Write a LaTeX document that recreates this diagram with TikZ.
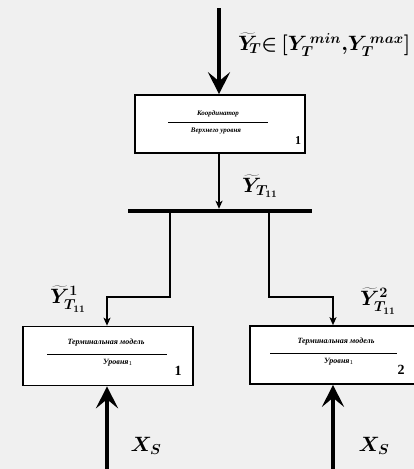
\documentclass[tikz,border=0pt]{standalone}
\usepackage{fontspec}
\setmainfont{Liberation Serif}
\usetikzlibrary{arrows.meta}
\begin{document}
\begin{tikzpicture}[x=1pt,y=-1pt,
  block/.style={draw, line width=1.6pt, fill=white, inner sep=0pt},
  tiny/.style={font=\fontsize{7}{8}\selectfont\itshape\bfseries, inner sep=0pt},
  small/.style={font=\fontsize{8}{9}\selectfont\itshape\bfseries, inner sep=0pt},
  num/.style={font=\fontsize{14}{15}\selectfont\bfseries, inner sep=0pt},
  lbl/.style={font=\fontsize{20}{22}\selectfont\boldmath, inner sep=0pt},
  bigarrow/.style={line width=3.2pt, -{Stealth[length=22pt,width=22pt,inset=9pt]}},
  thinarrow/.style={line width=1.5pt, -{Stealth[length=8pt,width=7pt,inset=2pt]}},
  rulel/.style={line width=0.9pt}]
\fill[gray!12] (0,0) rectangle (414,469);
\useasboundingbox (0,0) rectangle (414,469);

% upper coordinator
\node[block, minimum width=170pt, minimum height=58pt] (coord) at (220,124) {};
\node[tiny] (ct) at (218,114) {Координатор};
\node[tiny] (cb) at (216,131) {Верхнего уровня};
\draw[rulel] (168,122) -- (268,122);
\node[num, font=\fontsize{12}{13}\selectfont\bfseries] (c1) at (298,141) {1};

% distribution bar
\node[fill=black, minimum width=184pt, minimum height=4pt, inner sep=0pt] (bar) at (220,211) {};

% terminal models
\node[block, minimum width=170pt, minimum height=59pt] (lbox) at (108,356) {};
\node[small] (lt) at (106,343) {Терминальная модель};
\node[small] (lb) at (118,363) {Уровня$_1$};
\draw[rulel] (47,354) -- (167,354);
\node[num] (l1) at (178,371) {1};

\node[block, minimum width=166pt, minimum height=58pt] (rbox) at (333,355) {};
\node[small] (rt) at (336,342) {Терминальная модель};
\node[small] (rb) at (339,362) {Уровня$_1$};
\draw[rulel] (270,353) -- (397,353);
\node[num] (r2) at (401,370) {2};

% inputs and connectors
\coordinate (top) at (219,8);
\draw[bigarrow] (top) -- (coord.north -| top);
\draw[thinarrow] (coord.south -| top) -- (bar.north -| top);

\coordinate (lbend) at (107,297);
\coordinate (rbend) at (333,297);
\coordinate (lbr) at (170,211);
\coordinate (rbr) at (269,211);
\draw[thinarrow] (bar.south -| lbr) |- (lbend) -- (lbox.north -| lbend);
\draw[thinarrow] (bar.south -| rbr) |- (rbend) -- (rbox.north -| rbend);

\coordinate (xl) at (107,472);
\coordinate (xr) at (333,472);
\draw[bigarrow] (xl) -- (lbox.south -| xl);
\draw[bigarrow] (xr) -- (rbox.south -| xr);

% labels
\node[lbl, anchor=west, font=\fontsize{21}{23}\selectfont\boldmath] (ty) at (238,45) {$\widetilde{Y}_{\!T}{\in}\,[Y_T^{\,min}{,}Y_T^{\,max}]$};
\node[lbl] (t11) at (260,186) {$\widetilde{Y}_{T_{11}}$};
\node[lbl] (t111) at (68,299) {$\widetilde{Y}^1_{T_{11}}$};
\node[lbl] (t112) at (378,301) {$\widetilde{Y}^2_{T_{11}}$};
\node[lbl] (xs1) at (146,446) {$X_S$};
\node[lbl] (xs2) at (374,446) {$X_S$};
\end{tikzpicture}
\end{document}
